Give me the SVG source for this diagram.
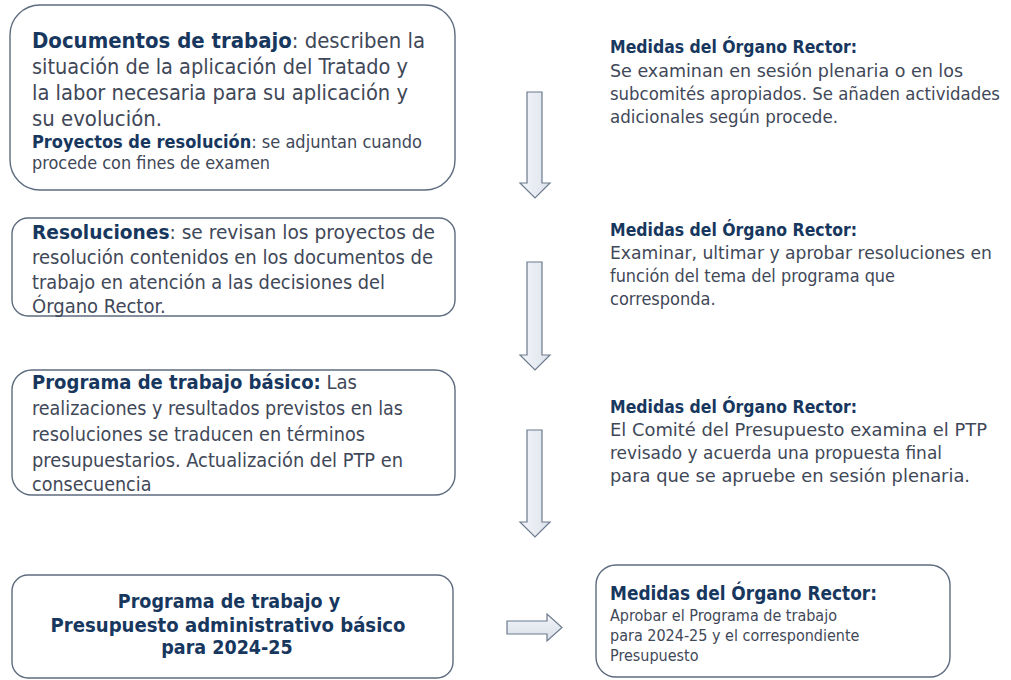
<svg xmlns="http://www.w3.org/2000/svg" width="1011" height="680" viewBox="0 0 1011 680">
<defs>
<linearGradient id="ag" x1="0" y1="0" x2="1" y2="0">
<stop offset="0" stop-color="#f3f5f9"/>
<stop offset="1" stop-color="#dde3ec"/>
</linearGradient>
<linearGradient id="agv" x1="0" y1="0" x2="0" y2="1">
<stop offset="0" stop-color="#f3f5f9"/>
<stop offset="1" stop-color="#d9dfe8"/>
</linearGradient>
<style>
.box{fill:#ffffff;stroke:#5d6b7e;stroke-width:1.4}
.arr{stroke:#6b7a8d;stroke-width:1.2;stroke-linejoin:miter}
text{font-family:"DejaVu Sans Condensed","DejaVu Sans",sans-serif;fill:#3f4858}
.b{font-weight:bold;fill:#17375e}
.t1{font-size:20.5px}
.t1s{font-size:17.5px}
.t2{font-size:20px}
.t3{font-size:19.5px}
.t4{font-size:19.5px;font-weight:bold;fill:#17375e}
.rh{font-size:17px;font-weight:bold;fill:#17375e}
.rb{font-size:18px}
.r5h{font-size:19px;font-weight:bold;fill:#17375e}
.r5b{font-size:16px}
</style>
</defs>
<rect width="1011" height="680" fill="#ffffff"/>

<g id="connectors">
<path class="arr" fill="url(#ag)" d="M527,92 H542 V183 H550 L535,198 L520,183 H527 Z"/>
<path class="arr" fill="url(#ag)" d="M527,262 H542 V355 H550 L535,370 L520,355 H527 Z"/>
<path class="arr" fill="url(#ag)" d="M527,430 H542 V522 H550 L535,537 L520,522 H527 Z"/>
<path class="arr" fill="url(#agv)" d="M507,621 H547 V614 L562,627.5 L547,641 V634 H507 Z"/>
</g>

<g id="node-documentos">
<rect class="box" x="10" y="5" width="445" height="185" rx="30"/>
<text class="t1" x="32" y="48" textLength="393" lengthAdjust="spacingAndGlyphs"><tspan class="b">Documentos de trabajo</tspan>: describen la</text>
<text class="t1" x="32" y="74" textLength="376" lengthAdjust="spacingAndGlyphs">situación de la aplicación del Tratado y</text>
<text class="t1" x="32" y="100" textLength="376" lengthAdjust="spacingAndGlyphs">la labor necesaria para su aplicación y</text>
<text class="t1" x="32" y="126" textLength="130" lengthAdjust="spacingAndGlyphs">su evolución.</text>
<text class="t1s" x="32" y="148" textLength="390" lengthAdjust="spacingAndGlyphs"><tspan class="b">Proyectos de resolución</tspan>:  se adjuntan cuando</text>
<text class="t1s" x="32" y="169" textLength="238" lengthAdjust="spacingAndGlyphs">procede con fines de examen</text>
</g>

<g id="node-resoluciones">
<rect class="box" x="12" y="218" width="443" height="98" rx="16"/>
<text class="t2" x="32" y="239" textLength="403" lengthAdjust="spacingAndGlyphs"><tspan class="b">Resoluciones</tspan>: se revisan los proyectos de</text>
<text class="t2" x="32" y="264" textLength="401" lengthAdjust="spacingAndGlyphs">resolución contenidos en los documentos de</text>
<text class="t2" x="32" y="289" textLength="353" lengthAdjust="spacingAndGlyphs">trabajo en atención a las decisiones del</text>
<text class="t2" x="32" y="313">Órgano Rector.</text>
</g>

<g id="node-programa">
<rect class="box" x="12" y="370" width="443" height="125" rx="20"/>
<text class="t3" x="32" y="389" textLength="325" lengthAdjust="spacingAndGlyphs"><tspan class="b">Programa de trabajo básico:</tspan> Las</text>
<text class="t3" x="32" y="415" textLength="371" lengthAdjust="spacingAndGlyphs">realizaciones  y resultados previstos en las</text>
<text class="t3" x="32" y="441" textLength="333" lengthAdjust="spacingAndGlyphs">resoluciones se traducen en términos</text>
<text class="t3" x="32" y="467" textLength="371" lengthAdjust="spacingAndGlyphs">presupuestarios. Actualización  del PTP en</text>
<text class="t3" x="32" y="491">consecuencia</text>
</g>

<g id="node-presupuesto">
<rect class="box" x="12" y="575" width="441" height="103" rx="16"/>
<text class="t4" x="229" y="608" text-anchor="middle">Programa de trabajo y</text>
<text class="t4" x="228" y="632" text-anchor="middle" textLength="355" lengthAdjust="spacingAndGlyphs">Presupuesto administrativo básico</text>
<text class="t4" x="227" y="654" text-anchor="middle">para 2024-25</text>
</g>

<g id="node-medidas-1">
<text class="rh" x="610" y="53" textLength="247" lengthAdjust="spacingAndGlyphs">Medidas del Órgano Rector:</text>
<text class="rb" x="610" y="77" textLength="353" lengthAdjust="spacingAndGlyphs">Se examinan en sesión plenaria  o en los</text>
<text class="rb" x="610" y="100" textLength="390" lengthAdjust="spacingAndGlyphs">subcomités apropiados. Se añaden actividades</text>
<text class="rb" x="610" y="123" textLength="228" lengthAdjust="spacingAndGlyphs">adicionales  según procede.</text>
</g>

<g id="node-medidas-2">
<text class="rh" x="610" y="236" textLength="247" lengthAdjust="spacingAndGlyphs">Medidas del Órgano Rector:</text>
<text class="rb" x="610" y="259" textLength="382" lengthAdjust="spacingAndGlyphs">Examinar, ultimar y aprobar resoluciones en</text>
<text class="rb" x="610" y="282" textLength="285" lengthAdjust="spacingAndGlyphs">función del tema del programa que</text>
<text class="rb" x="610" y="305">corresponda.</text>
</g>

<g id="node-medidas-3">
<text class="rh" x="610" y="413" textLength="247" lengthAdjust="spacingAndGlyphs">Medidas del Órgano Rector:</text>
<text class="rb" x="610" y="436" textLength="377" lengthAdjust="spacingAndGlyphs">El Comité del Presupuesto examina el PTP</text>
<text class="rb" x="610" y="459" textLength="332" lengthAdjust="spacingAndGlyphs">revisado y acuerda una propuesta final</text>
<text class="rb" x="610" y="482" textLength="360" lengthAdjust="spacingAndGlyphs">para que se apruebe en sesión plenaria.</text>
</g>

<g id="node-medidas-final">
<rect class="box" x="596" y="565" width="354" height="112" rx="20"/>
<text class="r5h" x="610" y="600" textLength="267" lengthAdjust="spacingAndGlyphs">Medidas del Órgano Rector:</text>
<text class="r5b" x="610" y="621">Aprobar el Programa de trabajo</text>
<text class="r5b" x="610" y="641">para 2024-25 y el correspondiente</text>
<text class="r5b" x="610" y="661">Presupuesto</text>
</g>
</svg>
